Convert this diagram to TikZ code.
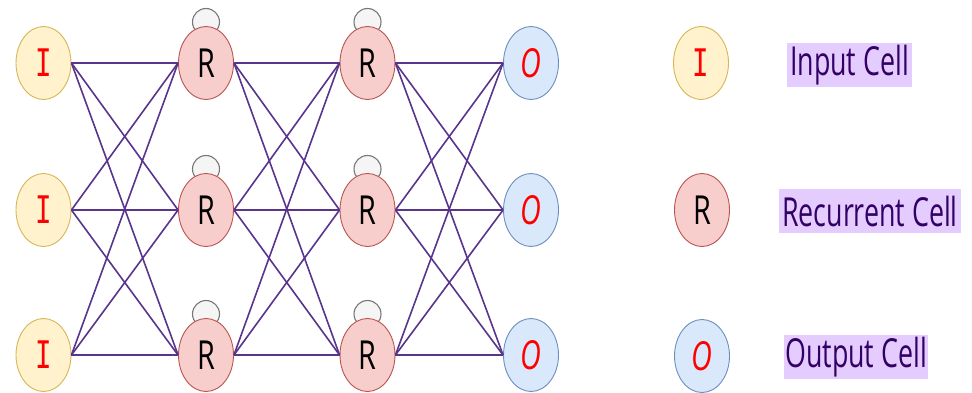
\documentclass[tikz,border=0pt]{standalone}
\usepackage{fontspec}
\setmainfont{Open Sans}
\newfontfamily\ifont{DejaVu Sans Mono}
\usepackage{graphicx}
\definecolor{edgec}{RGB}{88,52,140}
\definecolor{ifill}{HTML}{FFF2CC}\definecolor{idraw}{HTML}{D6B656}
\definecolor{rfill}{HTML}{F8CECC}\definecolor{rdraw}{HTML}{B85450}
\definecolor{ofill}{HTML}{DAE8FC}\definecolor{odraw}{HTML}{6C8EBF}
\definecolor{lfill}{HTML}{E5CCFF}\definecolor{ltext}{HTML}{330066}
\definecolor{loopf}{HTML}{F5F5F5}\definecolor{loopd}{HTML}{777777}
\tikzset{
  cell/.style={ellipse, minimum width=55pt, minimum height=73pt, inner sep=0pt, line width=0.9pt},
  icell/.style={cell, fill=ifill, draw=idraw, text=red},
  rcell/.style={cell, fill=rfill, draw=rdraw, text=black},
  ocell/.style={cell, fill=ofill, draw=odraw, text=red},
  conn/.style={draw=edgec, line width=1.6pt},
  loopc/.style={fill=loopf, draw=loopd, line width=1.1pt},
  legend/.style={fill=lfill, text=ltext, inner sep=0pt, minimum height=44pt}
}
\newcommand{\cl}[1]{\scalebox{0.72}[1]{\fontsize{40}{40}\selectfont #1}}
\newcommand{\ci}{\scalebox{0.72}[1]{\fontsize{38}{38}\selectfont\ifont I}}
\newcommand{\lt}[1]{\scalebox{0.67}[1]{\fontsize{40}{40}\selectfont #1}}
\usetikzlibrary{shapes.geometric}
\begin{document}
\begin{tikzpicture}[x=1pt,y=-1pt]
\useasboundingbox (0,0) rectangle (972,393);
% loops behind R cells
\foreach \x in {206,367.5}{
  \foreach \y in {63,210,355}{
    \draw[loopc] (\x,\y-41) circle (13.5);
  }
}
\foreach \y/\n in {63/1,210/2,355/3}{
  \node[icell] (i\n) at (43.5,\y) {\ci};
  \node[rcell] (a\n) at (206,\y) {\cl{R}};
  \node[rcell] (b\n) at (367.5,\y) {\cl{R}};
  \node[ocell] (o\n) at (531,\y) {\cl{\itshape O}};
}
\foreach \s in {1,2,3}{
  \foreach \t in {1,2,3}{
    \draw[conn] (i\s.east) -- (a\t.west);
    \draw[conn] (a\s.east) -- (b\t.west);
    \draw[conn] (b\s.east) -- (o\t.west);
  }
}
% legend
\node[icell] (li) at (701,63) {\ci};
\node[rcell] (lr) at (702,210) {\cl{R}};
\node[ocell] (lo) at (702,356) {\cl{\itshape O}};
\node[legend, minimum width=125pt] (ti) at (849.5,65) {\lt{Input Cell}};
\node[legend, minimum width=182pt] (tr) at (870,211) {\lt{Recurrent Cell}};
\node[legend, minimum width=144pt] (to) at (856,357) {\lt{Output Cell}};
\end{tikzpicture}
\end{document}
